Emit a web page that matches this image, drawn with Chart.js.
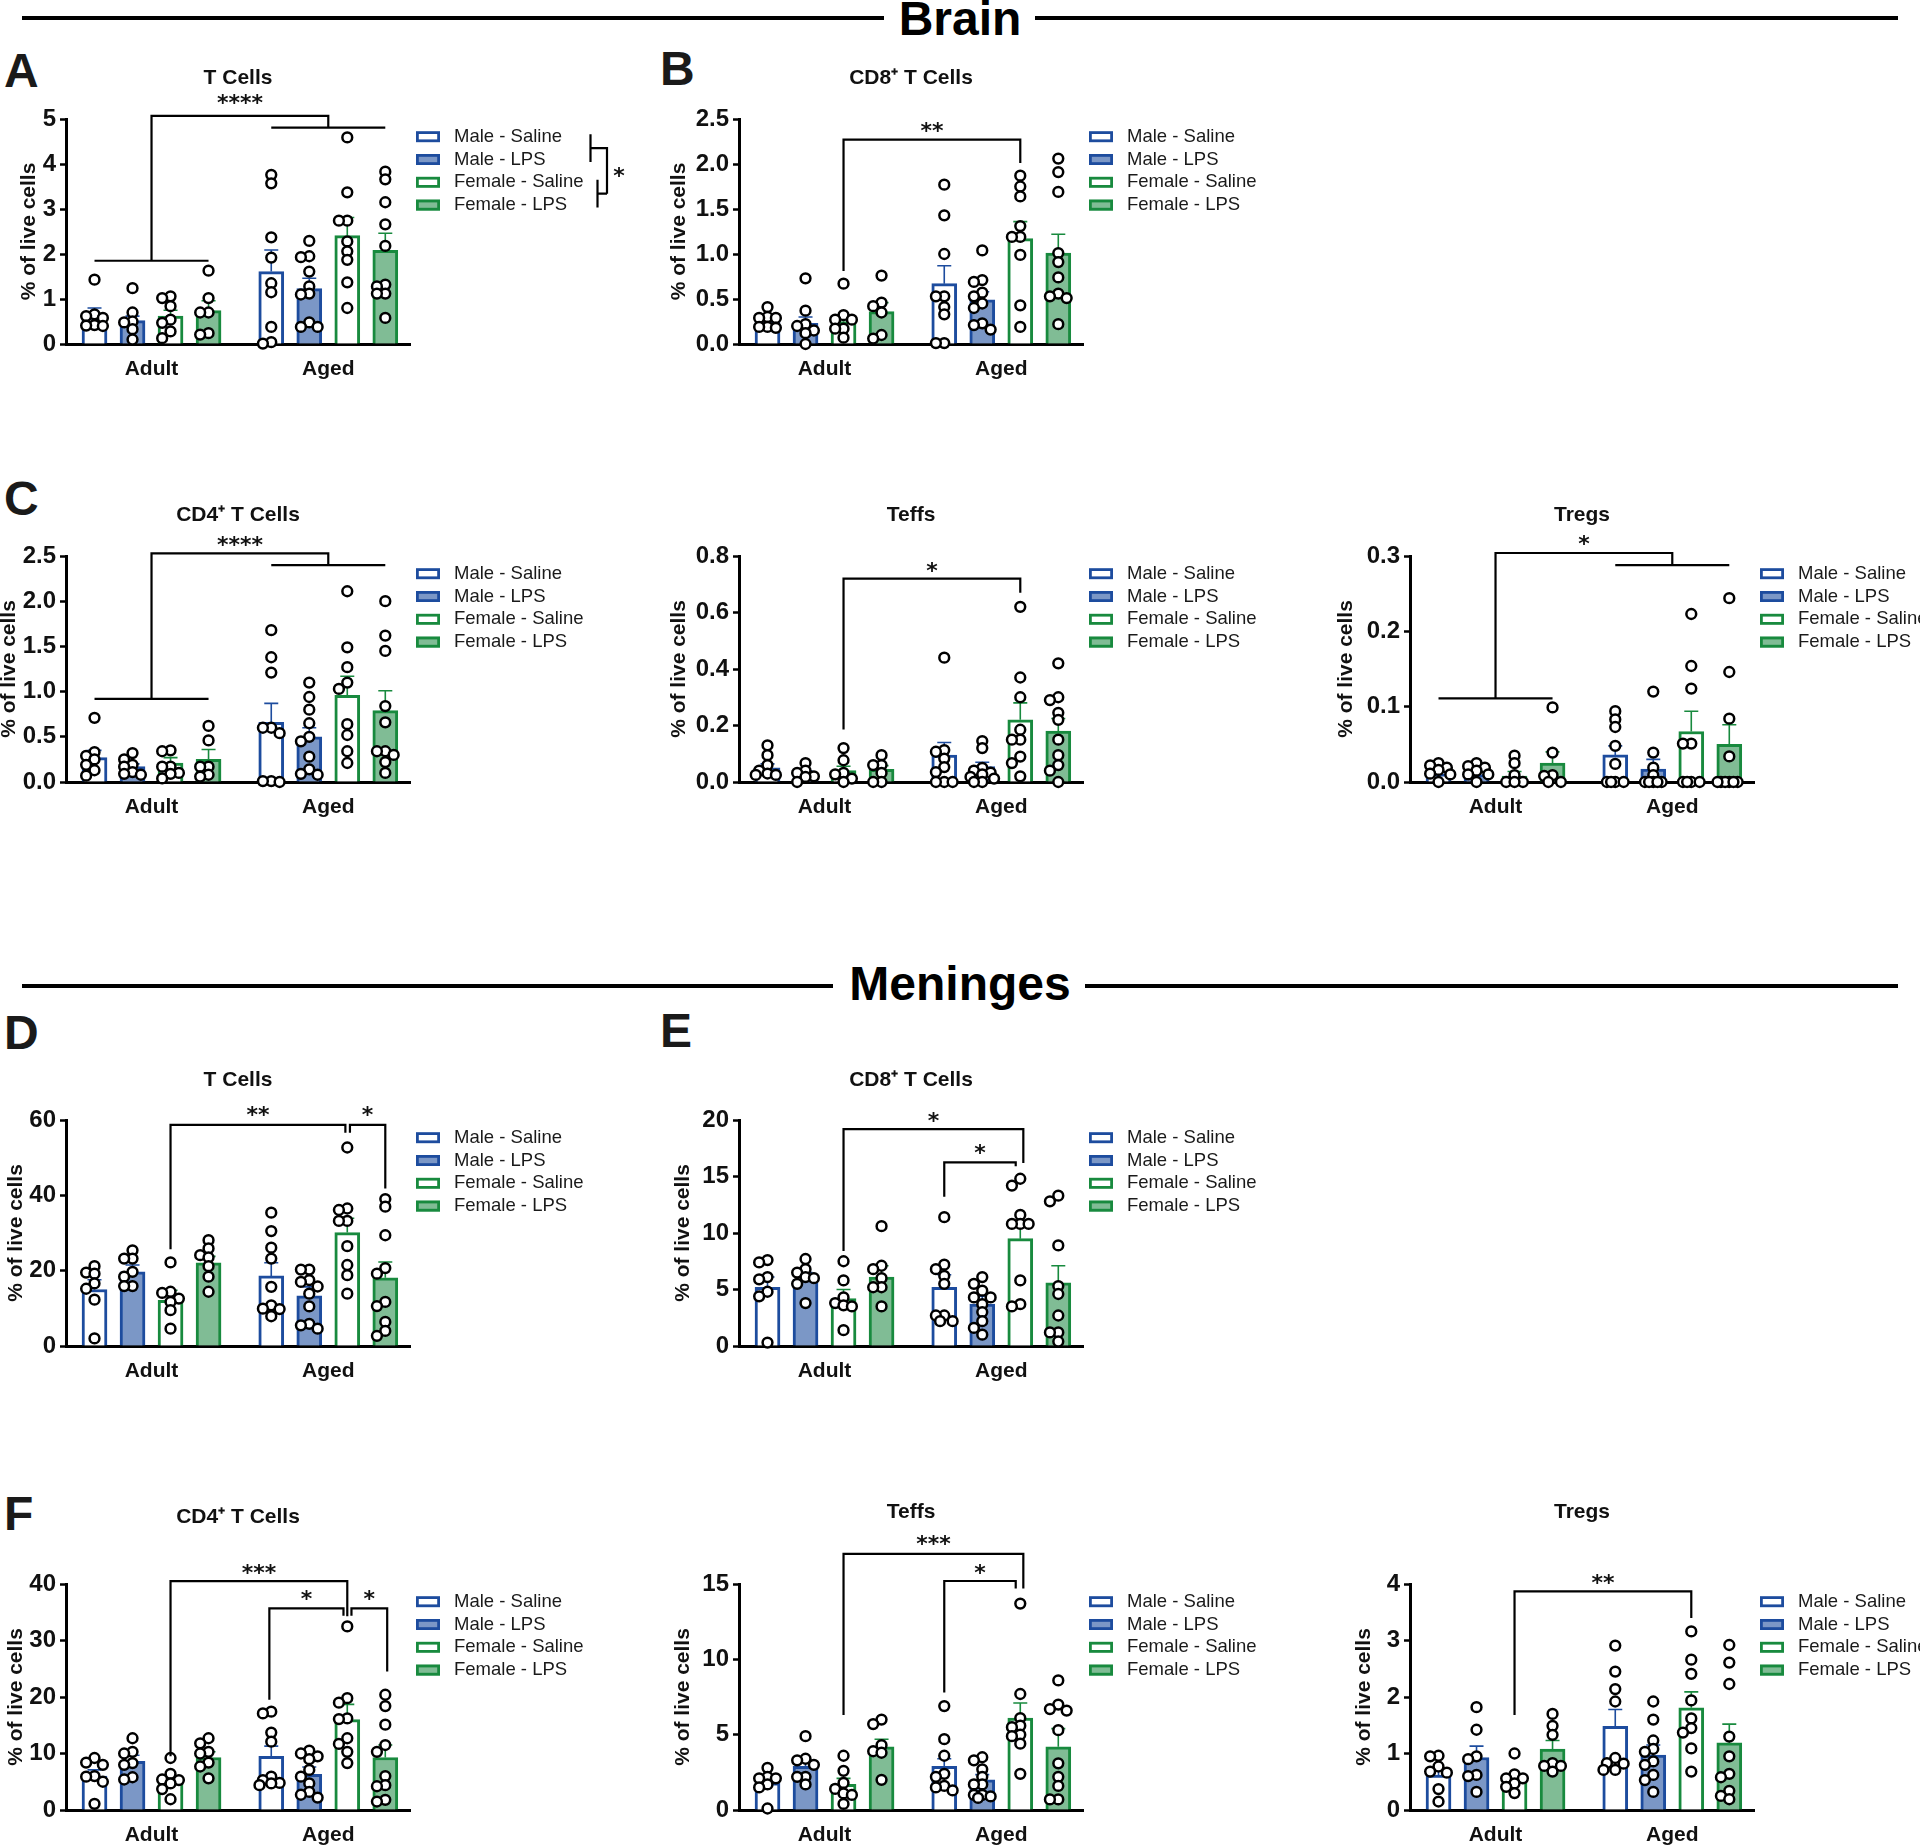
<!DOCTYPE html>
<html>
<head>
<meta charset="utf-8">
<script src="https://cdn.jsdelivr.net/npm/chart.js@4.4.1/dist/chart.umd.min.js"></script>
<style>
html, body { margin: 0; padding: 0; background: #fff; width: 1920px; height: 1848px; overflow: hidden; position: relative; font-family: "Liberation Sans", Arial, sans-serif; }
canvas { position: absolute; }
.rule { position: absolute; height: 4px; background: #000; }
.hdr { position: absolute; left: 0; width: 1920px; text-align: center; font-weight: bold; font-size: 48px; line-height: 1; color: #000; }
.let { position: absolute; font-weight: bold; font-size: 48px; line-height: 1; color: #1a1a1a; }
</style>
</head>
<body>
<div class="rule" style="left:22px;top:16px;width:862px"></div>
<div class="rule" style="left:1035px;top:16px;width:863px"></div>
<div class="hdr" style="top:-5px">Brain</div>
<div class="rule" style="left:22px;top:984px;width:811px"></div>
<div class="rule" style="left:1085px;top:984px;width:813px"></div>
<div class="hdr" style="top:960px">Meninges</div>
<div class="let" style="left:4px;top:47px">A</div>
<div class="let" style="left:660px;top:45px">B</div>
<div class="let" style="left:4px;top:475px">C</div>
<div class="let" style="left:4px;top:1009px">D</div>
<div class="let" style="left:660px;top:1007px">E</div>
<div class="let" style="left:4px;top:1490px">F</div>

<script>
// categories
var treatments = ['Male - Saline', 'Male - LPS', 'Female - Saline', 'Female - LPS'];
var ageGroups = ['Adult', 'Aged'];

// Brain - T cells
var brainTMean = [0.60, 0.52, 0.62, 0.74, 1.61, 1.23, 2.41, 2.08];
var brainTSem = [0.20, 0.10, 0.13, 0.22, 0.48, 0.23, 0.40, 0.38];
var brainTPts = [
    [1.43, 0.66, 0.62, 0.58, 0.42, 0.41, 0.40],
    [1.24, 0.70, 0.50, 0.48, 0.33, 0.10],
    [1.06, 1.02, 0.84, 0.54, 0.47, 0.28, 0.13],
    [1.63, 1.02, 0.70, 0.70, 0.24, 0.21],
    [3.76, 3.57, 2.37, 1.92, 1.35, 1.15, 0.38, 0.04, 0.01],
    [2.29, 1.95, 1.93, 1.61, 1.28, 1.12, 1.10, 0.48, 0.38, 0.38],
    [4.59, 3.37, 2.74, 2.74, 2.28, 2.06, 1.87, 1.37, 0.80],
    [3.83, 3.66, 3.15, 2.66, 2.18, 1.32, 1.28, 1.12, 1.12, 0.58]
];
var brainTTicks = ['0', '1', '2', '3', '4', '5'];

// Brain - CD8+ T cells
var brainCD8Mean = [0.26, 0.23, 0.25, 0.36, 0.67, 0.49, 1.17, 1.01];
var brainCD8Sem = [0.04, 0.07, 0.07, 0.10, 0.20, 0.09, 0.19, 0.21];
var brainCD8Pts = [
    [0.41, 0.30, 0.29, 0.29, 0.19, 0.19, 0.18],
    [0.73, 0.37, 0.22, 0.20, 0.15, 0.12, 0.0],
    [0.67, 0.32, 0.27, 0.27, 0.17, 0.17, 0.07],
    [0.76, 0.46, 0.42, 0.35, 0.10, 0.06],
    [1.77, 1.43, 1.00, 0.53, 0.53, 0.41, 0.33, 0.01, 0.01],
    [1.04, 0.71, 0.69, 0.57, 0.53, 0.45, 0.40, 0.23, 0.21, 0.16],
    [1.87, 1.75, 1.64, 1.31, 1.19, 1.19, 0.99, 0.43, 0.19],
    [2.06, 1.91, 1.69, 1.01, 0.91, 0.74, 0.56, 0.53, 0.51, 0.22]
];
var brainCD8Ticks = ['0.0', '0.5', '1.0', '1.5', '2.0', '2.5'];

// Brain - CD4+ T cells
var brainCD4Mean = [0.27, 0.17, 0.21, 0.25, 0.66, 0.50, 0.96, 0.79];
var brainCD4Sem = [0.08, 0.03, 0.06, 0.11, 0.21, 0.10, 0.21, 0.22];
var brainCD4Pts = [
    [0.71, 0.33, 0.29, 0.25, 0.19, 0.13, 0.07],
    [0.32, 0.25, 0.19, 0.17, 0.11, 0.09, 0.08],
    [0.35, 0.34, 0.17, 0.17, 0.10, 0.09, 0.04],
    [0.62, 0.46, 0.17, 0.17, 0.08, 0.06],
    [1.68, 1.38, 1.21, 0.60, 0.60, 0.54, 0.01, 0.01, 0.0],
    [1.10, 0.94, 0.80, 0.65, 0.50, 0.45, 0.28, 0.14, 0.09, 0.08],
    [2.11, 1.49, 1.27, 1.10, 1.03, 0.64, 0.52, 0.34, 0.21],
    [2.00, 1.62, 1.45, 0.84, 0.66, 0.34, 0.34, 0.30, 0.22, 0.10]
];
var brainCD4Ticks = ['0.0', '0.5', '1.0', '1.5', '2.0', '2.5'];

// Brain - Teffs
var brainTeffMean = [0.05, 0.03, 0.04, 0.045, 0.095, 0.055, 0.22, 0.18];
var brainTeffSem = [0.014, 0.01, 0.016, 0.013, 0.045, 0.015, 0.06, 0.045];
var brainTeffPts = [
    [0.13, 0.095, 0.06, 0.04, 0.03, 0.025, 0.025],
    [0.067, 0.04, 0.032, 0.02, 0.018, 0.0],
    [0.12, 0.077, 0.032, 0.027, 0.012, 0.0],
    [0.095, 0.06, 0.06, 0.032, 0.0, 0.0],
    [0.44, 0.113, 0.107, 0.083, 0.053, 0.035, 0.0, 0.0, 0.0],
    [0.145, 0.12, 0.05, 0.04, 0.033, 0.027, 0.018, 0.012, 0.0, 0.0],
    [0.62, 0.37, 0.30, 0.185, 0.15, 0.15, 0.09, 0.067, 0.02],
    [0.42, 0.30, 0.29, 0.245, 0.22, 0.15, 0.095, 0.06, 0.04, 0.0]
];
var brainTeffTicks = ['0.0', '0.2', '0.4', '0.6', '0.8'];

// Brain - Tregs
var brainTregMean = [0.011, 0.010, 0.008, 0.025, 0.036, 0.017, 0.067, 0.050];
var brainTregSem = [0.003, 0.003, 0.006, 0.015, 0.012, 0.013, 0.027, 0.026];
var brainTregPts = [
    [0.025, 0.022, 0.019, 0.016, 0.011, 0.010, 0.0],
    [0.025, 0.021, 0.019, 0.015, 0.010, 0.010, 0.0],
    [0.035, 0.025, 0.009, 0.0, 0.0, 0.0],
    [0.099, 0.039, 0.009, 0.008, 0.0, 0.0],
    [0.094, 0.083, 0.073, 0.048, 0.024, 0.0, 0.0, 0.0, 0.0],
    [0.120, 0.039, 0.019, 0.009, 0.0, 0.0, 0.0, 0.0, 0.0],
    [0.223, 0.154, 0.124, 0.051, 0.051, 0.0, 0.0, 0.0, 0.0],
    [0.244, 0.146, 0.084, 0.034, 0.0, 0.0, 0.0, 0.0, 0.0, 0.0]
];
var brainTregTicks = ['0.0', '0.1', '0.2', '0.3'];

// Meninges - T cells
var menTMean = [15.0, 19.7, 12.1, 22.1, 18.6, 13.3, 30.1, 18.1];
var menTSem = [2.6, 1.8, 2.7, 1.7, 3.5, 2.4, 3.8, 4.2];
var menTPts = [
    [21.2, 19.5, 19.2, 16.6, 15.2, 12.3, 2.0],
    [25.4, 23.2, 23.2, 19.7, 18.4, 15.9, 15.9],
    [22.2, 14.4, 14.1, 12.6, 11.7, 9.5, 4.6],
    [28.1, 25.9, 24.1, 23.5, 21.2, 18.4, 14.4],
    [35.4, 30.5, 26.1, 23.2, 15.7, 10.8, 9.9, 9.8, 7.9],
    [20.3, 20.3, 17.5, 17.0, 15.8, 13.9, 10.5, 5.9, 5.5, 4.6],
    [52.7, 36.5, 36.1, 33.2, 33.2, 26.5, 21.5, 18.8, 13.9],
    [39.0, 37.0, 29.4, 20.7, 19.2, 11.7, 10.6, 6.4, 4.0, 2.7]
];
var menTTicks = ['0', '20', '40', '60'];

// Meninges - CD8+ T cells
var menCD8Mean = [5.2, 5.9, 4.2, 6.1, 5.2, 3.7, 9.5, 5.6];
var menCD8Sem = [0.9, 0.6, 0.8, 1.0, 1.1, 0.7, 1.3, 1.5];
var menCD8Pts = [
    [7.6, 7.4, 6.1, 5.9, 4.8, 4.4, 0.3],
    [7.7, 6.8, 6.5, 6.1, 6.0, 5.5, 3.8],
    [7.5, 5.8, 4.3, 3.8, 3.6, 3.5, 1.4],
    [10.6, 7.1, 6.8, 6.0, 5.2, 5.2, 3.5],
    [11.4, 7.2, 6.8, 6.2, 5.5, 2.7, 2.7, 2.2, 2.2],
    [6.1, 5.5, 4.9, 4.3, 4.3, 3.7, 3.0, 2.2, 1.6, 1.0],
    [14.8, 14.2, 11.6, 10.8, 10.8, 10.8, 5.8, 3.7, 3.5],
    [13.3, 12.8, 8.9, 5.3, 4.6, 2.7, 1.2, 1.2, 0.4]
];
var menCD8Ticks = ['0', '5', '10', '15', '20'];

// Meninges - CD4+ T cells
var menCD4Mean = [6.0, 8.6, 5.2, 9.3, 9.5, 6.3, 16.0, 9.3];
var menCD4Sem = [1.1, 1.1, 0.8, 1.0, 1.8, 1.3, 2.7, 2.2];
var menCD4Pts = [
    [9.2, 8.4, 8.0, 6.0, 5.9, 5.0, 1.1],
    [12.7, 10.3, 10.0, 8.3, 8.0, 5.8, 5.4],
    [9.2, 6.4, 5.4, 5.3, 4.7, 3.7, 1.9],
    [12.7, 11.8, 10.3, 10.0, 8.4, 7.7, 5.6],
    [17.4, 17.1, 13.7, 12.1, 5.9, 5.3, 4.8, 4.7, 4.4],
    [10.5, 10.0, 9.5, 9.0, 7.1, 5.9, 4.7, 3.2, 2.7, 2.2],
    [32.5, 19.8, 19.0, 16.2, 16.1, 12.7, 11.7, 10.3, 8.3],
    [20.4, 18.4, 15.1, 11.5, 10.3, 6.0, 4.4, 4.2, 1.8, 1.5]
];
var menCD4Ticks = ['0', '10', '20', '30', '40'];

// Meninges - Teffs
var menTeffMean = [1.8, 2.9, 1.7, 4.2, 2.9, 2.0, 6.1, 4.2];
var menTeffSem = [0.3, 0.4, 0.4, 0.5, 0.5, 0.35, 1.0, 1.2];
var menTeffPts = [
    [2.8, 2.2, 2.1, 2.1, 1.7, 1.5, 0.1],
    [4.9, 3.4, 3.3, 3.0, 2.2, 2.2, 1.7],
    [3.6, 2.6, 1.8, 1.4, 1.1, 1.0, 0.4],
    [6.0, 5.7, 4.3, 3.9, 3.8, 2.0],
    [6.9, 4.7, 3.6, 2.4, 2.2, 1.6, 1.5, 1.3],
    [3.5, 3.3, 2.7, 2.2, 1.7, 1.7, 1.0, 1.0, 0.9, 0.8],
    [13.7, 7.7, 6.1, 5.6, 5.5, 5.0, 4.9, 4.4, 2.4],
    [8.6, 7.0, 6.7, 6.6, 5.3, 3.1, 2.2, 1.6, 0.7, 0.7]
];
var menTeffTicks = ['0', '5', '10', '15'];

// Meninges - Tregs
var menTregMean = [0.62, 0.93, 0.54, 1.08, 1.48, 0.97, 1.81, 1.19];
var menTregSem = [0.12, 0.20, 0.08, 0.15, 0.30, 0.18, 0.28, 0.33];
var menTregPts = [
    [0.96, 0.95, 0.77, 0.68, 0.66, 0.37, 0.15],
    [1.82, 1.42, 0.95, 0.90, 0.62, 0.60, 0.32],
    [1.00, 0.63, 0.56, 0.56, 0.47, 0.41, 0.30],
    [1.70, 1.49, 1.33, 0.83, 0.78, 0.78, 0.68],
    [2.91, 2.45, 2.14, 1.92, 0.92, 0.83, 0.82, 0.71, 0.71],
    [1.92, 1.60, 1.23, 1.08, 1.03, 0.86, 0.80, 0.62, 0.53, 0.32],
    [3.16, 2.66, 2.41, 1.94, 1.62, 1.45, 1.37, 1.09, 0.68],
    [2.92, 2.61, 2.23, 1.30, 0.95, 0.64, 0.58, 0.34, 0.25, 0.19]
];
var menTregTicks = ['0', '1', '2', '3', '4'];

// look and layout
var FONT = '"Liberation Sans", Arial, sans-serif';
var TICK_FONT = '"Liberation Sans Narrow", "Arial Narrow", "Liberation Sans", sans-serif';
var fills = ['#ffffff', '#7b97c6', '#ffffff', '#80bc95'];
var edges = ['#1d4c9e', '#1d4c9e', '#188a3e', '#188a3e'];
var barX = [0, 1, 2, 3, 4.65, 5.65, 6.65, 7.65];
var groupX = [1.5, 6.15];
var COLS = [{left: -20, axis: 66}, {left: 620, axis: 739}, {left: 1260, axis: 1410}];
var PLOT_W = 344, X_MIN = -0.75, X_MAX = 8.3, CANVAS_W = 660, XAXIS_H = 44;
var PPU_X = PLOT_W / (X_MAX - X_MIN);

Chart.defaults.font.family = FONT;
Chart.defaults.color = '#111';

// significance brackets, in data units
function pairSig(x1, y1, x2, y2, top, label, ly) {
    return {paths: [[[x1, y1], [x1, top], [x2, top], [x2, y2]]], label: label, lx: (x1 + x2) / 2, ly: ly};
}
function groupSig(yL, yR, top, label, ly) {
    return {
        paths: [
            [[barX[0], yL], [barX[3], yL]],
            [[barX[4], yR], [barX[7], yR]],
            [[groupX[0], yL], [groupX[0], top], [groupX[1], top], [groupX[1], yR]]
        ],
        label: label, lx: (groupX[0] + groupX[1]) / 2, ly: ly
    };
}

var panels = [
    {col: 0, titleY: 78, top: 119, bottom: 344, title: 'T Cells', mean: brainTMean, sem: brainTSem, pts: brainTPts, ticks: brainTTicks, yTitleX: 29,
        sigs: [groupSig(1.85, 4.81, 5.07, '****', 5.47)], legendSig: true},
    {col: 1, titleY: 78, top: 119, bottom: 344, title: 'CD8\u207A T Cells', mean: brainCD8Mean, sem: brainCD8Sem, pts: brainCD8Pts, ticks: brainCD8Ticks, yTitleX: 679,
        sigs: [pairSig(2, 0.81, 6.65, 2.01, 2.27, '**', 2.43)]},
    {col: 0, titleY: 515, top: 556, bottom: 782, title: 'CD4\u207A T Cells', mean: brainCD4Mean, sem: brainCD4Sem, pts: brainCD4Pts, ticks: brainCD4Ticks, yTitleX: 9,
        sigs: [groupSig(0.92, 2.40, 2.53, '****', 2.68)]},
    {col: 1, titleY: 515, top: 556, bottom: 782, title: 'Teffs', mean: brainTeffMean, sem: brainTeffSem, pts: brainTeffPts, ticks: brainTeffTicks, yTitleX: 679,
        sigs: [pairSig(2, 0.186, 6.65, 0.67, 0.72, '*', 0.767)]},
    {col: 2, titleY: 515, top: 556, bottom: 782, title: 'Tregs', mean: brainTregMean, sem: brainTregSem, pts: brainTregPts, ticks: brainTregTicks, yTitleX: 1346,
        sigs: [groupSig(0.111, 0.288, 0.304, '*', 0.323)]},
    {col: 0, titleY: 1080, top: 1120, bottom: 1346, title: 'T Cells', mean: menTMean, sem: menTSem, pts: menTPts, ticks: menTTicks, yTitleX: 16,
        sigs: [pairSig(2, 25.7, 6.6, 56.6, 58.7, '**', 62.7), pairSig(6.72, 56.6, 7.65, 41.8, 58.7, '*', 62.7)]},
    {col: 1, titleY: 1080, top: 1120, bottom: 1346, title: 'CD8\u207A T Cells', mean: menCD8Mean, sem: menCD8Sem, pts: menCD8Pts, ticks: menCD8Ticks, yTitleX: 683,
        sigs: [pairSig(2, 8.4, 6.73, 16.2, 19.2, '*', 20.4), pairSig(4.65, 13.2, 6.53, 15.9, 16.25, '*', 17.6)]},
    {col: 0, titleY: 1517, top: 1584, bottom: 1810, title: 'CD4\u207A T Cells', mean: menCD4Mean, sem: menCD4Sem, pts: menCD4Pts, ticks: menCD4Ticks, yTitleX: 16,
        sigs: [pairSig(2, 9.5, 6.65, 34.3, 40.5, '***', 43.0), pairSig(4.6, 19.5, 6.55, 34.4, 35.7, '*', 38.3), pairSig(6.76, 34.4, 7.7, 24.5, 35.7, '*', 38.3)]},
    {col: 1, titleY: 1512, top: 1584, bottom: 1810, title: 'Teffs', mean: menTeffMean, sem: menTeffSem, pts: menTeffPts, ticks: menTeffTicks, yTitleX: 683,
        sigs: [pairSig(2, 6.3, 6.73, 14.7, 17.0, '***', 18.0), pairSig(4.65, 7.8, 6.53, 14.7, 15.2, '*', 16.1)]},
    {col: 2, titleY: 1512, top: 1584, bottom: 1810, title: 'Tregs', mean: menTregMean, sem: menTregSem, pts: menTregPts, ticks: menTregTicks, yTitleX: 1364,
        sigs: [pairSig(2, 1.68, 6.65, 3.40, 3.87, '**', 4.12)]}
];

// spread points sideways so they don't sit on top of each other
function swarm(vals, ppuY) {
    var placed = [];
    var gap = 7;
    var offsets = [0, -0.22, 0.22, -0.11, 0.11, -0.31, 0.31];
    return vals.map(function (v) {
        var best = 0, bestD = -1;
        for (var j = 0; j < offsets.length; j++) {
            var dx = offsets[j];
            var d = placed.reduce(function (acc, p) {
                return Math.min(acc, Math.hypot((p.dx - dx) * PPU_X, (p.v - v) * ppuY));
            }, Infinity);
            if (d >= gap) { best = dx; bestD = d; break; }
            if (d > bestD) { best = dx; bestD = d; }
        }
        placed.push({dx: best, v: v});
        return best;
    });
}

function decorPlugin(p) {
    return {
        id: 'decor',
        afterDatasetDraw: function (chart, args) {
            if (args.index !== 0) return;
            var ctx = chart.ctx, xs = chart.scales.x, ys = chart.scales.y;
            ctx.save();
            ctx.lineWidth = 1.6;
            p.mean.forEach(function (m, i) {
                var px = xs.getPixelForValue(barX[i]);
                var y0 = ys.getPixelForValue(m), y1 = ys.getPixelForValue(m + p.sem[i]);
                ctx.strokeStyle = edges[i % 4];
                ctx.beginPath();
                ctx.moveTo(px, y0); ctx.lineTo(px, y1);
                ctx.moveTo(px - 7, y1); ctx.lineTo(px + 7, y1);
                ctx.stroke();
            });
            ctx.restore();
        },
        afterDraw: function (chart) {
            var ctx = chart.ctx, area = chart.chartArea, xs = chart.scales.x, ys = chart.scales.y;
            ctx.save();
            // brackets
            ctx.strokeStyle = '#000';
            ctx.lineWidth = 2.2;
            ctx.fillStyle = '#111';
            ctx.font = 'bold 22px "DejaVu Sans", sans-serif';
            ctx.textAlign = 'center';
            ctx.textBaseline = 'alphabetic';
            p.sigs.forEach(function (s) {
                s.paths.forEach(function (path) {
                    ctx.beginPath();
                    path.forEach(function (pt, k) {
                        var px = xs.getPixelForValue(pt[0]), py = ys.getPixelForValue(pt[1]);
                        if (k === 0) ctx.moveTo(px, py); else ctx.lineTo(px, py);
                    });
                    ctx.stroke();
                });
                ctx.fillText(s.label, xs.getPixelForValue(s.lx), ys.getPixelForValue(s.ly) + 12.5);
            });
            // legend
            var bx = area.right + 6, tx = area.right + 44;
            var rows = treatments.map(function (t, i) { return area.top + 17.7 + i * 22.8; });
            ctx.font = '18.5px ' + FONT;
            ctx.textAlign = 'left';
            ctx.textBaseline = 'middle';
            treatments.forEach(function (t, i) {
                var cy = rows[i];
                ctx.fillStyle = fills[i];
                ctx.fillRect(bx, cy - 5.5, 24, 11);
                ctx.strokeStyle = edges[i];
                ctx.lineWidth = 2.8;
                ctx.strokeRect(bx + 1.4, cy - 5.5 + 1.4, 24 - 2.8, 11 - 2.8);
                ctx.fillStyle = '#1a1a1a';
                ctx.fillText(t, tx, cy);
            });
            if (p.legendSig) {
                var xa = tx + 136.5, xb = tx + 143.5, xc = tx + 153;
                var m1 = (rows[0] + rows[1]) / 2, m2 = (rows[2] + rows[3]) / 2;
                ctx.strokeStyle = '#000';
                ctx.lineWidth = 2.2;
                ctx.beginPath();
                ctx.moveTo(xa, rows[0] - 2.5); ctx.lineTo(xa, rows[1] + 2.5);
                ctx.moveTo(xa, m1); ctx.lineTo(xc, m1); ctx.lineTo(xc, m2);
                ctx.moveTo(xb, rows[2] - 2.5); ctx.lineTo(xb, rows[3] + 2.5);
                ctx.moveTo(xb, m2); ctx.lineTo(xc, m2);
                ctx.stroke();
                ctx.fillStyle = '#111';
                ctx.font = 'bold 22px "DejaVu Sans", sans-serif';
                ctx.textAlign = 'center';
                ctx.textBaseline = 'alphabetic';
                ctx.fillText('*', xc + 12, (m1 + m2) / 2 + 12.5);
            }
            ctx.restore();
        }
    };
}

panels.forEach(function (p) {
    var col = COLS[p.col];
    var cTop = p.titleY - 20;
    var plotH = p.bottom - p.top;
    var h = p.bottom - cTop + XAXIS_H;
    var canvas = document.createElement('canvas');
    canvas.width = CANVAS_W;
    canvas.height = h;
    canvas.style.left = col.left + 'px';
    canvas.style.top = cTop + 'px';
    document.body.appendChild(canvas);

    var tickVals = p.ticks.map(parseFloat);
    var yMax = tickVals[tickVals.length - 1];
    var ppuY = plotH / yMax;

    var dots = [];
    p.pts.forEach(function (vals, g) {
        var offs = swarm(vals, ppuY);
        vals.forEach(function (v, k) { dots.push({x: barX[g] + offs[k], y: v}); });
    });

    new Chart(canvas, {
        type: 'bar',
        data: {
            datasets: [{
                type: 'bar',
                data: p.mean.map(function (m, i) { return {x: barX[i], y: m}; }),
                backgroundColor: p.mean.map(function (m, i) { return fills[i % 4]; }),
                borderColor: p.mean.map(function (m, i) { return edges[i % 4]; }),
                borderWidth: 3,
                barThickness: 25,
                order: 2
            }, {
                type: 'scatter',
                data: dots,
                pointRadius: 4.9,
                pointBorderWidth: 2.5,
                pointBackgroundColor: '#ffffff',
                pointBorderColor: '#000000',
                showLine: false,
                clip: false,
                order: 1
            }]
        },
        options: {
            responsive: false,
            animation: false,
            devicePixelRatio: 1,
            layout: {
                padding: {left: 0, top: 0, bottom: 0, right: CANVAS_W + col.left - col.axis - PLOT_W}
            },
            plugins: {
                legend: {display: false},
                tooltip: {enabled: false},
                title: {
                    display: true,
                    text: p.title,
                    fullSize: false,
                    color: '#111',
                    font: {size: 21, weight: 'bold'},
                    padding: {top: 20 - 12.6, bottom: p.top - p.titleY - 12.6}
                }
            },
            scales: {
                x: {
                    type: 'linear',
                    min: X_MIN,
                    max: X_MAX,
                    bounds: 'data',
                    offset: false,
                    afterBuildTicks: function (s) { s.ticks = groupX.map(function (v) { return {value: v}; }); },
                    afterFit: function (s) { s.height = XAXIS_H; },
                    ticks: {
                        callback: function (v, i) { return ageGroups[i]; },
                        font: {size: 21, weight: 'bold'},
                        color: '#111',
                        padding: 13,
                        autoSkip: false,
                        maxRotation: 0,
                        minRotation: 0
                    },
                    grid: {display: false, drawTicks: false, offset: false},
                    border: {display: true, color: '#000', width: 3}
                },
                y: {
                    type: 'linear',
                    min: 0,
                    max: yMax,
                    bounds: 'data',
                    afterBuildTicks: function (s) { s.ticks = tickVals.map(function (v) { return {value: v}; }); },
                    afterFit: function (s) { s.width = col.axis - col.left; },
                    ticks: {
                        callback: function (v, i) { return p.ticks[i]; },
                        font: {family: TICK_FONT, size: 24, weight: 'bold'},
                        color: '#111',
                        padding: 4,
                        autoSkip: false
                    },
                    grid: {display: true, drawOnChartArea: false, drawTicks: true, tickLength: 6, tickWidth: 2.5, tickColor: '#000', color: '#000'},
                    border: {display: true, color: '#000', width: 3},
                    title: {
                        display: true,
                        text: '% of live cells',
                        color: '#111',
                        font: {size: 21, weight: 'bold'},
                        padding: {top: p.yTitleX - col.left - 12.6, bottom: 0}
                    }
                }
            }
        },
        plugins: [decorPlugin(p)]
    });
});
</script>
</body>
</html>
